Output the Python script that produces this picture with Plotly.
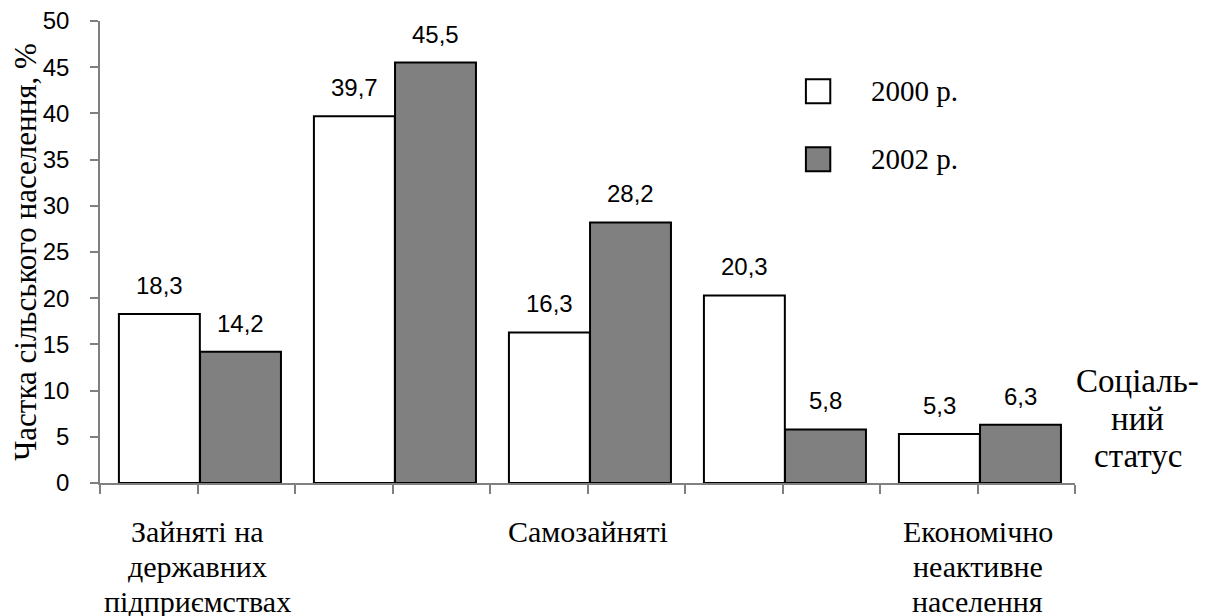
import numpy as np
import plotly.graph_objects as go

# ---- data ----
categories = ["Зайняті на<br>державних<br>підприємствах", "", "Самозайняті", "", "Економічно<br>неактивне<br>населення"]
series_names = ["2000 р.", "2002 р."]
values_2000 = [18.3, 39.7, 16.3, 20.3, 5.3]
values_2002 = [14.2, 45.5, 28.2, 5.8, 6.3]
y_ticks = [0, 5, 10, 15, 20, 25, 30, 35, 40, 45, 50]
y_title = "Частка сільського населення, %"
x_side_title = "Соціаль-<br>ний<br>статус"

colors = ["#FFFFFF", "#808080"]
SERIF = "Liberation Serif"
SANS = "Liberation Sans"

x = np.arange(len(values_2000))
bw = 0.415
offsets = [-0.403, 0.013]

fig = go.Figure()
for name, vals, col, off in zip(series_names, [values_2000, values_2002], colors, offsets):
    fig.add_trace(go.Bar(
        x=x, y=vals, name=name, width=bw, offset=off,
        marker=dict(color=col, line=dict(color="black", width=2)),
        showlegend=False,
    ))
    for xi, v in zip(x, vals):
        fig.add_annotation(
            x=xi + off + bw / 2, y=v, text=f"{v:.1f}".replace(".", ","),
            showarrow=False, yanchor="bottom", yshift=13,
            font=dict(family=SANS, size=24, color="black"),
        )

# tick marks at category centres and boundaries (labels drawn below as text lines)
tickvals = list(np.arange(-0.5, len(x), 0.5))

# category labels, one text line per annotation for tight (Word-like) line spacing
LINE = 35
for xi, cat in zip(x, categories):
    if not cat:
        continue
    for k, line in enumerate(cat.split("<br>")):
        fig.add_annotation(
            x=xi, xref="x", yref="paper", y=0, text=line,
            showarrow=False, xanchor="center", yanchor="middle",
            yshift=-48 - LINE * k,
            font=dict(family=SERIF, size=30, color="black"),
        )

# page body has an 8px default margin -> compensate
fig.update_layout(
    width=1215, height=616,
    margin=dict(l=92, r=148, t=13, b=141),
    plot_bgcolor="white", paper_bgcolor="white",
    barmode="overlay",
    xaxis=dict(
        range=[-0.5, len(x) - 0.5], automargin=False,
        tickmode="array", tickvals=tickvals, ticktext=[""] * len(tickvals),
        ticks="outside", ticklen=9, tickcolor="#808080", tickwidth=1.5,
        showline=True, linecolor="#808080", linewidth=1.5,
        showgrid=False, zeroline=False,
    ),
    yaxis=dict(
        range=[0, 50], automargin=False,
        tickmode="array", tickvals=y_ticks,
        ticks="outside", ticklen=8, tickcolor="#808080", tickwidth=1.5,
        showline=True, linecolor="#808080", linewidth=1.5,
        showgrid=False, zeroline=False,
        tickfont=dict(family=SANS, size=24, color="black"),
        ticklabelstandoff=16, ticklabeloverflow="allow",
        title=dict(text=y_title, font=dict(family=SERIF, size=31, color="black"), standoff=5),
    ),
)

# right-side caption of the x axis
for k, line in enumerate(x_side_title.split("<br>")):
    fig.add_annotation(
        xref="paper", yref="paper", x=1.0646, y=0, text=line,
        showarrow=False, xanchor="center", yanchor="middle",
        yshift=102 - 37.5 * k,
        font=dict(family=SERIF, size=33, color="black"),
    )

leg_y = [0.848, 0.701]
for name, col, ly in zip(series_names, colors, leg_y):
    fig.add_shape(type="rect", xref="paper", yref="paper",
                  x0=0.724, x1=0.749, y0=ly - 0.026, y1=ly + 0.026,
                  fillcolor=col, line=dict(color="black", width=2))
    fig.add_annotation(xref="paper", yref="paper", x=0.789, y=ly, text=name,
                       showarrow=False, xanchor="left", yanchor="middle",
                       font=dict(family=SERIF, size=29, color="black"))

fig.write_html("out.html")
